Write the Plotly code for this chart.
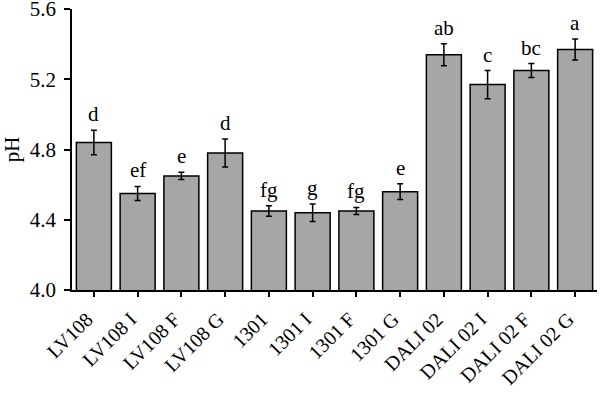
import plotly.graph_objects as go

categories = ["LV108", "LV108 I", "LV108 F", "LV108 G", "1301", "1301 I", "1301 F", "1301 G",
              "DALI 02", "DALI 02 I", "DALI 02 F", "DALI 02 G"]
ph_values = [4.84, 4.55, 4.65, 4.78, 4.45, 4.44, 4.45, 4.56, 5.34, 5.17, 5.25, 5.37]
ph_errors = [0.07, 0.04, 0.02, 0.08, 0.03, 0.05, 0.02, 0.045, 0.063, 0.08, 0.04, 0.06]
sig_letters = ["d", "ef", "e", "d", "fg", "g", "fg", "e", "ab", "c", "bc", "a"]
y_ticks = [4.0, 4.4, 4.8, 5.2, 5.6]

font = "Liberation Serif, Times New Roman, serif"

fig = go.Figure()
fig.add_trace(go.Bar(
    x=categories, y=ph_values, base=0,
    width=0.8,
    marker=dict(color="#a6a6a6", line=dict(color="black", width=1.5)),
    error_y=dict(type="data", array=ph_errors, visible=True, color="black", thickness=1.5, width=3),
    showlegend=False,
))

for i, (v, e, l) in enumerate(zip(ph_values, ph_errors, sig_letters)):
    fig.add_annotation(x=i, y=v + e, text=l, showarrow=False, yanchor="bottom", yshift=2,
                       font=dict(family=font, size=21, color="black"))

fig.update_layout(
    width=600, height=393,
    margin=dict(l=72, r=3, t=9, b=103),
    plot_bgcolor="white", paper_bgcolor="white",
    font=dict(family=font, size=20, color="black"),
    bargap=0.2,
)
fig.update_xaxes(
    type="category", automargin=False,
    range=[-0.5, 11.5], showline=True, linecolor="black", linewidth=1.5,
    ticks="outside", ticklen=5, tickwidth=1.5, tickcolor="black", tickangle=-45,
    ticklabelstandoff=3, ticklabelshift=-7, ticklabeloverflow="allow",
    tickfont=dict(family=font, size=20), showgrid=False,
)
fig.update_yaxes(
    automargin=False,
    range=[4.0, 5.6005], tickvals=y_ticks, ticktext=[f"{t:.1f}" for t in y_ticks],
    showline=True, linecolor="black", linewidth=1.5,
    ticks="outside", ticklen=6, tickwidth=1.5, tickcolor="black",
    ticklabelstandoff=4, ticklabeloverflow="allow",
    tickfont=dict(family=font, size=21), showgrid=False, zeroline=False,
    title=dict(text="pH", font=dict(family=font, size=21), standoff=4),
)

fig.write_html("out.html", post_script="document.body.style.margin='0';",
               config={"displayModeBar": False})
